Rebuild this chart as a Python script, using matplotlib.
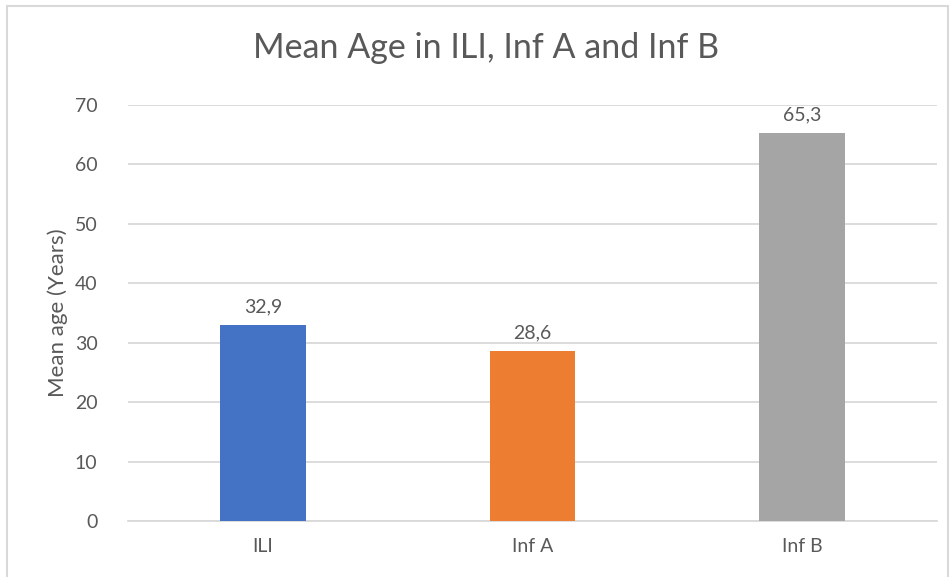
import matplotlib
matplotlib.use("Agg")
import matplotlib.pyplot as plt
from matplotlib.patches import Rectangle

# Values
categories = ["ILI", "Inf A", "Inf B"]
mean_age = [32.9, 28.6, 65.3]
value_labels = ["32,9", "28,6", "65,3"]
bar_colors = ["#4472C4", "#ED7D31", "#A5A5A5"]
y_ticks = [0, 10, 20, 30, 40, 50, 60, 70]

TEXT = "#595959"
GRID = "#D9D9D9"

plt.rcParams["font.family"] = ["Lato", "DejaVu Sans"]

fig = plt.figure(figsize=(9.53, 5.77), dpi=100)
ax = fig.add_axes([128 / 953, 56 / 577, 809 / 953, 416 / 577])

x = range(len(categories))
bars = ax.bar(x, mean_age, width=0.318, color=bar_colors, zorder=3)
for b, lab in zip(bars, value_labels):
    ax.annotate(lab, (b.get_x() + b.get_width() / 2, b.get_height()),
                xytext=(0, 7), textcoords="offset points",
                ha="center", va="bottom", fontsize=14, color=TEXT)

ax.set_xlim(-0.5, 2.5)
ax.set_ylim(0, 70)
ax.set_yticks(y_ticks)
ax.set_xticks(list(x))
ax.set_xticklabels(categories)
ax.grid(True, axis="y", color=GRID, linewidth=1.3, zorder=0)
for s in ["top", "right", "left"]:
    ax.spines[s].set_visible(False)
ax.spines["bottom"].set_color(GRID)
ax.spines["bottom"].set_linewidth(1.3)
ax.tick_params(axis="both", length=0, labelsize=14, labelcolor=TEXT)
ax.tick_params(axis="y", pad=22)
ax.tick_params(axis="x", pad=12)
ax.set_ylabel("Mean age (Years)", fontsize=16, color=TEXT, labelpad=5)

fig.text(486 / 953, 1 - 48 / 577, "Mean Age in ILI, Inf A and Inf B",
         ha="center", va="center", fontsize=24.5, color=TEXT)

fig.patches.append(Rectangle((7 / 953, -0.01), 941 / 953, 1 - 6 / 577 + 0.01,
                             transform=fig.transFigure, fill=False,
                             edgecolor="#D9D9D9", linewidth=1.5))

fig.savefig("out.png", dpi=100)
